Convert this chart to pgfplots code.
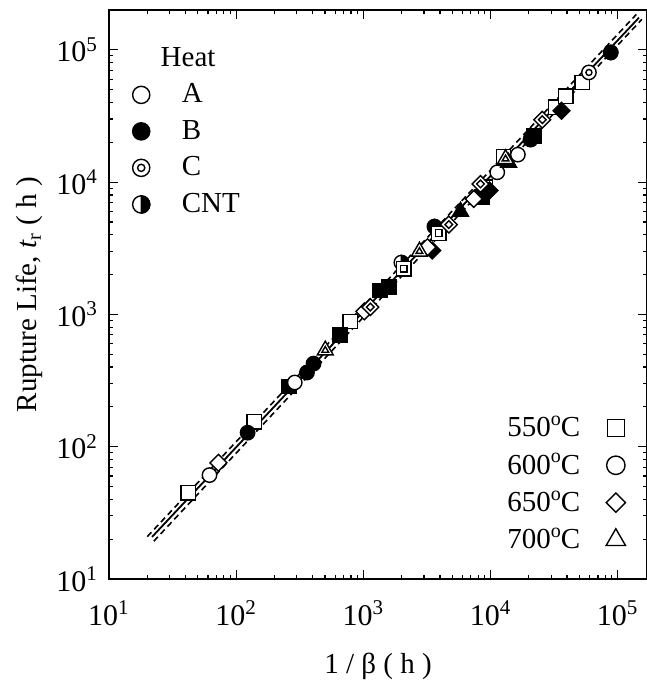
\documentclass[border=0pt]{standalone}
\usepackage{fontspec}
\setmainfont{Liberation Serif}
\usepackage{pgfplots}
\pgfplotsset{compat=1.18}

% plot marks: plain, double (inner outline) and half-filled
\pgfdeclareplotmark{sq}{%
  \pgfpathrectanglecorners{\pgfqpoint{-\pgfplotmarksize}{-\pgfplotmarksize}}{\pgfqpoint{\pgfplotmarksize}{\pgfplotmarksize}}%
  \pgfusepathqfillstroke}
\pgfdeclareplotmark{dsq}{%
  \pgfpathrectanglecorners{\pgfqpoint{-\pgfplotmarksize}{-\pgfplotmarksize}}{\pgfqpoint{\pgfplotmarksize}{\pgfplotmarksize}}%
  \pgfusepathqfillstroke
  \pgfpathrectanglecorners{\pgfqpoint{-0.45\pgfplotmarksize}{-0.45\pgfplotmarksize}}{\pgfqpoint{0.45\pgfplotmarksize}{0.45\pgfplotmarksize}}%
  \pgfusepathqstroke}
\pgfdeclareplotmark{circ}{%
  \pgfpathcircle{\pgfpointorigin}{\pgfplotmarksize}\pgfusepathqfillstroke}
\pgfdeclareplotmark{dcirc}{%
  \pgfpathcircle{\pgfpointorigin}{\pgfplotmarksize}\pgfusepathqfillstroke
  \pgfpathcircle{\pgfpointorigin}{0.42\pgfplotmarksize}\pgfusepathqstroke}
\pgfdeclareplotmark{hcirc}{%
  \pgfpathcircle{\pgfpointorigin}{\pgfplotmarksize}\pgfusepathqfillstroke
  \pgfpathmoveto{\pgfqpoint{0pt}{\pgfplotmarksize}}%
  \pgfpatharc{90}{-90}{\pgfplotmarksize}%
  \pgfpathclose
  \pgfsetfillcolor{black}\pgfusepathqfillstroke}
\pgfdeclareplotmark{dia}{%
  \pgfpathmoveto{\pgfqpoint{0pt}{\pgfplotmarksize}}%
  \pgfpathlineto{\pgfqpoint{\pgfplotmarksize}{0pt}}%
  \pgfpathlineto{\pgfqpoint{0pt}{-\pgfplotmarksize}}%
  \pgfpathlineto{\pgfqpoint{-\pgfplotmarksize}{0pt}}%
  \pgfpathclose\pgfusepathqfillstroke}
\pgfdeclareplotmark{ddia}{%
  \pgfpathmoveto{\pgfqpoint{0pt}{\pgfplotmarksize}}%
  \pgfpathlineto{\pgfqpoint{\pgfplotmarksize}{0pt}}%
  \pgfpathlineto{\pgfqpoint{0pt}{-\pgfplotmarksize}}%
  \pgfpathlineto{\pgfqpoint{-\pgfplotmarksize}{0pt}}%
  \pgfpathclose\pgfusepathqfillstroke
  \pgfpathmoveto{\pgfqpoint{0pt}{0.45\pgfplotmarksize}}%
  \pgfpathlineto{\pgfqpoint{0.45\pgfplotmarksize}{0pt}}%
  \pgfpathlineto{\pgfqpoint{0pt}{-0.45\pgfplotmarksize}}%
  \pgfpathlineto{\pgfqpoint{-0.45\pgfplotmarksize}{0pt}}%
  \pgfpathclose\pgfusepathqstroke}
\pgfdeclareplotmark{tri}{%
  \pgfpathmoveto{\pgfqpointpolar{90}{\pgfplotmarksize}}%
  \pgfpathlineto{\pgfqpointpolar{210}{\pgfplotmarksize}}%
  \pgfpathlineto{\pgfqpointpolar{330}{\pgfplotmarksize}}%
  \pgfpathclose\pgfusepathqfillstroke}
\pgfdeclareplotmark{dtri}{%
  \pgfpathmoveto{\pgfqpointpolar{90}{\pgfplotmarksize}}%
  \pgfpathlineto{\pgfqpointpolar{210}{\pgfplotmarksize}}%
  \pgfpathlineto{\pgfqpointpolar{330}{\pgfplotmarksize}}%
  \pgfpathclose\pgfusepathqfillstroke
  \pgfpathmoveto{\pgfqpointpolar{90}{0.42\pgfplotmarksize}}%
  \pgfpathlineto{\pgfqpointpolar{210}{0.42\pgfplotmarksize}}%
  \pgfpathlineto{\pgfqpointpolar{330}{0.42\pgfplotmarksize}}%
  \pgfpathclose\pgfusepathqstroke}

\pgfplotsset{
  openmk/.style={only marks, mark options={draw=black, fill=white, line width=0.7pt}},
  fullmk/.style={only marks, mark options={draw=black, fill=black, line width=0.7pt}},
}
\newcommand{\degC}{\raisebox{0.85ex}{\fontsize{10}{10}\selectfont o}C}

\begin{document}
\begin{tikzpicture}
\begin{axis}[
  width=269pt, height=284.5pt, scale only axis,
  xmode=log, ymode=log,
  xmin=10, xmax=1.7e5, ymin=10, ymax=2e5,
  tick align=inside,
  major tick length=4.5pt, minor tick length=2.2pt,
  axis line style={line width=1pt},
  every tick/.style={black, line width=0.6pt},
  /pgf/number format/assume math mode=true,
  log number format basis/.code 2 args={#1\textsuperscript{\pgfmathprintnumber{#2}}},
  tick label style={font=\fontsize{15}{18}\selectfont},
  xticklabel style={yshift=-7.5pt},
  yticklabel style={xshift=-2pt},
  label style={font=\fontsize{14.5}{17}\selectfont},
  xlabel={1 / β ( h )},
  xlabel style={yshift=-7pt},
  ylabel={Rupture Life, \textit{t}\textsubscript{r} ( h )},
  legend style={at={(axis description cs:0.032,0.885)}, anchor=north west,
    draw=none, fill=none, font=\fontsize{14.5}{17}\selectfont,
    row sep=3.2pt, column sep=14pt},
  legend cell align=left,
]
% fitted line and scatter band
\addplot[forget plot, black, line width=0.9pt] coordinates {(21.8,20.8) (1.47e5,1.75e5)};
\addplot[forget plot, black, line width=0.8pt, dash pattern=on 3pt off 2pt] coordinates {(20,20.9) (1.4e5,1.85e5)};
\addplot[forget plot, black, line width=0.8pt, dash pattern=on 3pt off 2pt] coordinates {(22.5,19.3) (1.55e5,1.7e5)};

% 550 C
\addplot[forget plot, openmk, mark=sq, mark size=3.6pt] coordinates {
  (42.1,44.8) (138.6,153.9) (790,885) (9140,9140) (12650,15580)
  (32500,36940) (38960,44570) (52720,56610)};
\addplot[forget plot, fullmk, mark=sq, mark size=3.6pt] coordinates {
  (260,284.7) (659,694) (1361,1517) (1582,1607) (8610,7672) (21930,22440)};
% 600 C
\addplot[forget plot, fullmk, mark=circ, mark size=3.6pt] coordinates {
  (123,127.6) (360.3,363.8) (406,424.6) (20650,20940)};
\addplot[forget plot, openmk, mark=circ, mark size=3.6pt] coordinates {
  (61.7,61.0) (288.8,305.8) (11300,11860) (16410,16130)};
\addplot[forget plot, openmk, mark=hcirc, mark size=3.6pt] coordinates {
  (1991,2466) (3622,4613) (88100,95500)};
\addplot[forget plot, openmk, mark=dcirc, mark size=3.6pt] coordinates {
  (59430,67450)};
\addplot[forget plot, openmk, mark=dsq, mark size=3.6pt] coordinates {
  (2077,2213) (3918,4121)};
% 650 C
\addplot[forget plot, fullmk, mark=dia, mark size=4.2pt] coordinates {
  (3477,3040) (9820,8630) (36200,34640)};
\addplot[forget plot, openmk, mark=dia, mark size=4.2pt] coordinates {
  (72.6,75.5) (1018,1053) (3192,3221) (7388,7464)};
\addplot[forget plot, openmk, mark=ddia, mark size=4.2pt] coordinates {
  (1135,1136) (4699,4775) (8340,9680) (25530,29630)};
% 700 C
\addplot[forget plot, fullmk, mark=tri, mark size=4.6pt] coordinates {
  (5808,5986) (13870,14030)};
\addplot[forget plot, openmk, mark=dtri, mark size=4.6pt] coordinates {
  (502,535) (2761,2989) (13130,14960)};

\node[font=\fontsize{14.5}{17}\selectfont] at (axis description cs:0.147,0.917) {Heat};

\addlegendimage{openmk, mark=circ, mark size=4.3pt}
\addlegendentry{A}
\addlegendimage{fullmk, mark=circ, mark size=4.3pt}
\addlegendentry{B}
\addlegendimage{openmk, mark=dcirc, mark size=4.3pt}
\addlegendentry{C}
\addlegendimage{openmk, mark=hcirc, mark size=4.3pt}
\addlegendentry{CNT}
\end{axis}

\begin{axis}[
  width=269pt, height=284.5pt, scale only axis,
  xmode=log, ymode=log,
  xmin=10, xmax=1.7e5, ymin=10, ymax=2e5,
  hide axis,
  legend style={at={(axis description cs:0.972,0.033)}, anchor=south east,
    draw=none, fill=none, font=\fontsize{14.5}{17}\selectfont,
    row sep=2.8pt, column sep=11pt},
  legend cell align=right, legend plot pos=right,
]
\addlegendimage{openmk, mark=sq, mark size=4.3pt}
\addlegendentry{550\degC}
\addlegendimage{openmk, mark=circ, mark size=4.6pt}
\addlegendentry{600\degC}
\addlegendimage{openmk, mark=dia, mark size=4.8pt}
\addlegendentry{650\degC}
\addlegendimage{openmk, mark=tri, mark size=5.6pt}
\addlegendentry{700\degC}
\end{axis}

\pgfresetboundingbox
\path ([shift={(-54.5pt,-53pt)}]current axis.south west) rectangle ([shift={(0pt,5pt)}]current axis.north east);
\end{tikzpicture}
\end{document}
